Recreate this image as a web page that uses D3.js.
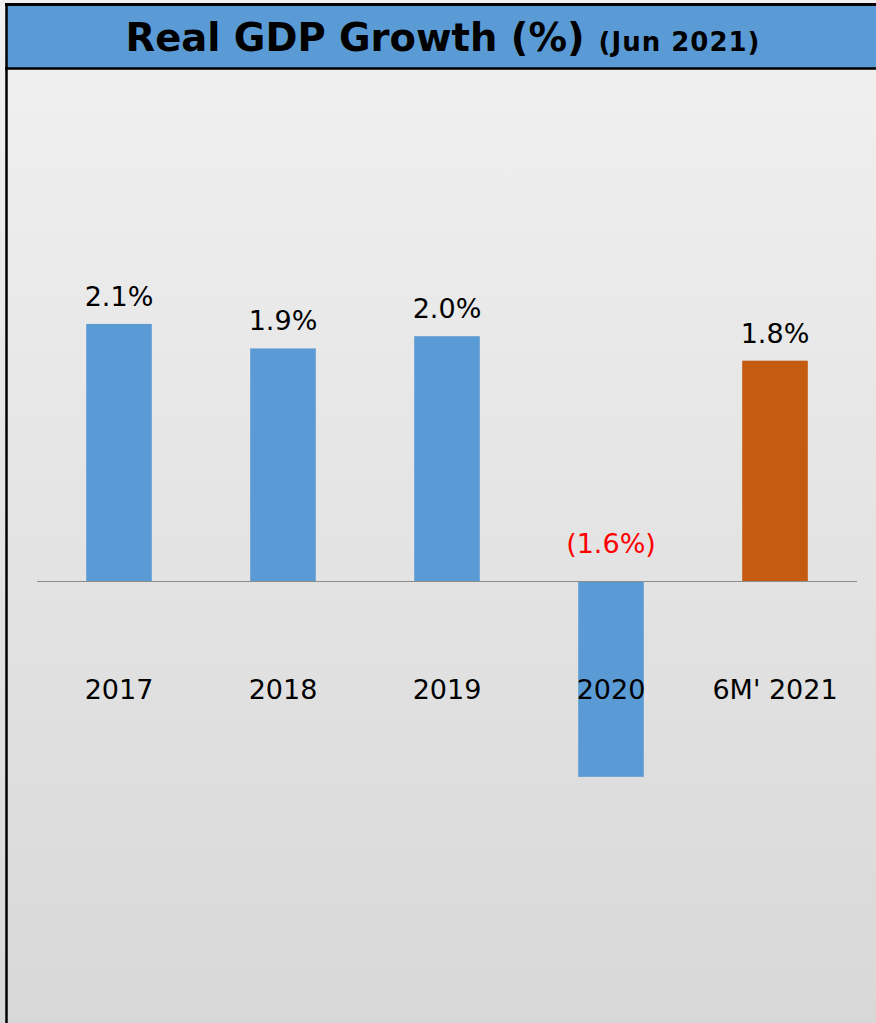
<!DOCTYPE html>
<html>
<head>
<meta charset="utf-8">
<script src="https://cdn.jsdelivr.net/npm/d3@7/dist/d3.min.js"></script>
<style>
  html, body { margin: 0; padding: 0; background: #e4e4e4; }
  svg { display: block; }
</style>
</head>
<body>
<script>
const categories = ["2017", "2018", "2019", "2020", "6M' 2021"];
const values = [2.1, 1.9, 2.0, -1.6, 1.8];
const valueLabels = ["2.1%", "1.9%", "2.0%", "(1.6%)", "1.8%"];
const barColors = ["#5b9bd5", "#5b9bd5", "#5b9bd5", "#5b9bd5", "#c55a11"];
const titleMain = "Real GDP Growth (%)";
const titleSub = "(Jun 2021)";

const W = 876, H = 1023;
const font = "'DejaVu Sans', Verdana, sans-serif";

const svg = d3.select("body").append("svg").attr("width", W).attr("height", H);

const defs = svg.append("defs");
const grad = defs.append("linearGradient").attr("id", "bg").attr("x1", 0).attr("y1", 0).attr("x2", 0).attr("y2", 1);
grad.append("stop").attr("offset", "0%").attr("stop-color", "#f1f1f1");
grad.append("stop").attr("offset", "100%").attr("stop-color", "#d8d8d8");

svg.append("rect").attr("x", 0).attr("y", 0).attr("width", W).attr("height", H).attr("fill", "url(#bg)");

// Title bar
svg.append("rect").attr("x", 6).attr("y", 4.5).attr("width", W).attr("height", 63.5)
  .attr("fill", "#5b9bd5");
svg.append("line").attr("x1", 5).attr("x2", W).attr("y1", 4.5).attr("y2", 4.5)
  .attr("stroke", "#000").attr("stroke-width", 3);
svg.append("line").attr("x1", 5).attr("x2", W).attr("y1", 68.5).attr("y2", 68.5)
  .attr("stroke", "#000").attr("stroke-width", 2.5);
svg.append("line").attr("x1", 6.5).attr("x2", 6.5).attr("y1", 3).attr("y2", H)
  .attr("stroke", "#000").attr("stroke-width", 2.5);

const title = svg.append("text").attr("x", 443).attr("y", 51)
  .attr("text-anchor", "middle").attr("font-family", font).attr("font-weight", "bold")
  .attr("fill", "#000");
title.append("tspan").attr("font-size", 38.5).text(titleMain);
title.append("tspan").attr("font-size", 26).attr("dx", 14).attr("letter-spacing", 1).text(titleSub);

// Scales
const x = d3.scaleBand().domain(categories).range([37, 857]).paddingInner(0.6).paddingOuter(0.3);
const y = d3.scaleLinear().domain([-2, 3]).range([581 + 2 * 122.4, 581 - 3 * 122.4]);

const data = categories.map((c, i) => ({ c, v: values[i], label: valueLabels[i], color: barColors[i] }));

svg.append("g").selectAll("rect").data(data).join("rect")
  .attr("x", d => x(d.c))
  .attr("width", x.bandwidth())
  .attr("y", d => y(Math.max(0, d.v)))
  .attr("height", d => Math.abs(y(d.v) - y(0)))
  .attr("fill", d => d.color);

// zero axis
const axis = d3.axisBottom(x).tickSize(0).tickPadding(0);
const gAxis = svg.append("g").attr("transform", `translate(0,${y(0)})`).call(axis);
gAxis.select(".domain").attr("stroke", "#8c8c8c").attr("stroke-width", 1.2)
  .attr("d", `M37,0.5H857`);
gAxis.selectAll(".tick text").attr("font-family", font).attr("font-size", 27)
  .attr("fill", "#000").attr("dy", null).attr("y", 118);

// value labels
svg.append("g").selectAll("text").data(data).join("text")
  .attr("x", d => x(d.c) + x.bandwidth() / 2)
  .attr("y", d => d.v >= 0 ? y(d.v) - 18 : y(0) - 28)
  .attr("text-anchor", "middle").attr("font-family", font).attr("font-size", 27)
  .attr("fill", d => d.v >= 0 ? "#000" : "#ff0000")
  .text(d => d.label);
</script>
</body>
</html>
